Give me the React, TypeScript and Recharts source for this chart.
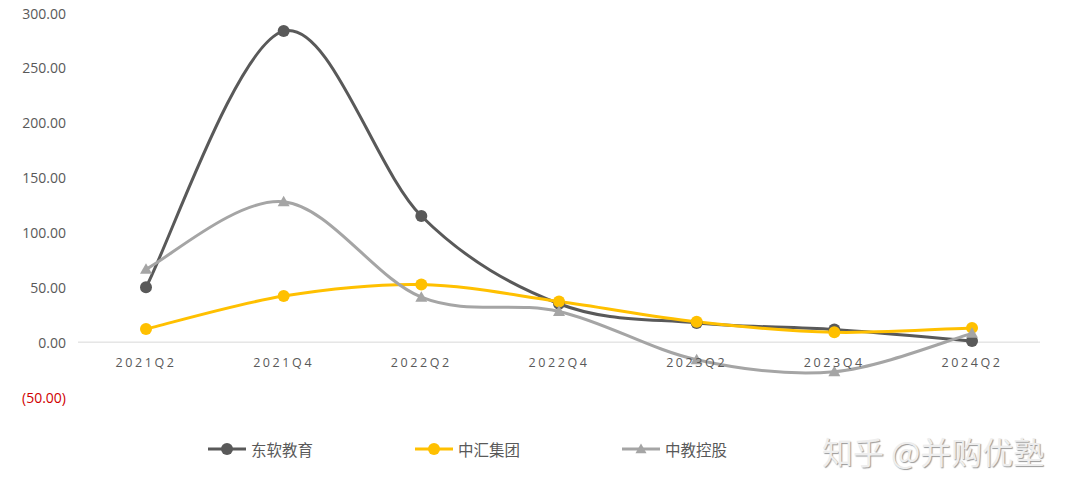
import React from "react"
import { LineChart, Line, XAxis, YAxis, ReferenceLine, Legend } from "recharts"

const quarters = ["2021Q2", "2021Q4", "2022Q2", "2022Q4", "2023Q2", "2023Q4", "2024Q2"]
const neusoft = [50, 283.5, 115, 35, 17.5, 11.5, 1]
const zhonghui = [12, 42, 52.5, 37, 18.5, 9, 13]
const zhongjiao = [66.5, 128, 41, 28, -16, -27, 8]
const yTicks = [-50, 0, 50, 100, 150, 200, 250, 300]

const series = [
  { key: "东软教育", values: neusoft, color: "#595959", shape: "circle" },
  { key: "中汇集团", values: zhonghui, color: "#FFC000", shape: "circle" },
  { key: "中教控股", values: zhongjiao, color: "#A5A5A5", shape: "triangle" },
]

const data = quarters.map((q, i) => {
  const row: Record<string, string | number> = { name: q }
  series.forEach((s) => (row[s.key] = s.values[i]))
  return row
})

// Excel-style smoothing (uniform Catmull-Rom as cubic beziers)
const smoothCurve = (context: any) => {
  let pts: number[][] = []
  return {
    areaStart() {},
    areaEnd() {},
    lineStart() {
      pts = []
    },
    point(x: number, y: number) {
      pts.push([+x, +y])
    },
    lineEnd() {
      const n = pts.length
      if (!n) return
      context.moveTo(pts[0][0], pts[0][1])
      for (let i = 0; i < n - 1; i++) {
        const p0 = pts[Math.max(i - 1, 0)]
        const p1 = pts[i]
        const p2 = pts[i + 1]
        const p3 = pts[Math.min(i + 2, n - 1)]
        context.bezierCurveTo(
          p1[0] + (p2[0] - p0[0]) / 6,
          p1[1] + (p2[1] - p0[1]) / 6,
          p2[0] - (p3[0] - p1[0]) / 6,
          p2[1] - (p3[1] - p1[1]) / 6,
          p2[0],
          p2[1]
        )
      }
    },
  }
}

const Triangle = ({ cx, cy, fill, size = 6 }: any) => (
  <path d={`M${cx},${cy - size} L${cx + size},${cy + size * 0.75} L${cx - size},${cy + size * 0.75} Z`} fill={fill} />
)

const makeDot = (color: string, shape: string) => (props: any) => {
  const { cx, cy, index } = props
  if (cx == null || cy == null) return <g key={index} />
  return shape === "triangle" ? (
    <Triangle key={index} cx={cx} cy={cy} fill={color} />
  ) : (
    <circle key={index} cx={cx} cy={cy} r={6} fill={color} />
  )
}

const XTick = ({ x, y, payload }: any) => (
  <text
    x={x}
    y={y - 43}
    textAnchor="middle"
    dominantBaseline="central"
    fill="#595959"
    fontSize={12.5}
    letterSpacing={2.6}
    fontFamily="'Open Sans', sans-serif"
  >
    {payload.value}
  </text>
)

const YTick = ({ x, y, payload }: any) => {
  const v = payload.value as number
  const label = v < 0 ? `(${Math.abs(v).toFixed(2)})` : v.toFixed(2)
  return (
    <text
      x={x}
      y={y}
      textAnchor="end"
      dominantBaseline="central"
      fill={v < 0 ? "#D00000" : "#595959"}
      fontSize={14}
      fontFamily="'Open Sans', sans-serif"
    >
      {label}
    </text>
  )
}

const LegendContent = () => (
  <div style={{ display: "flex", fontFamily: "'Noto Sans CJK SC', sans-serif", fontSize: 15.5, color: "#595959" }}>
    {series.map((s) => (
      <div key={s.key} style={{ display: "flex", alignItems: "center", width: 207 }}>
        <svg width={38} height={14} style={{ marginRight: 5 }}>
          <line x1={0} y1={7} x2={38} y2={7} stroke={s.color} strokeWidth={3} />
          {s.shape === "triangle" ? (
            <Triangle cx={19} cy={7} fill={s.color} size={5.5} />
          ) : (
            <circle cx={19} cy={7} r={6} fill={s.color} />
          )}
        </svg>
        <span>{s.key}</span>
      </div>
    ))}
  </div>
)

export default function App() {
  return (
    <div style={{ position: "absolute", left: 0, top: 0, width: 1080, height: 496, background: "#fff" }}>
      <LineChart width={1080} height={496} data={data} margin={{ top: 13, right: 40, left: 8, bottom: 69 }}>
        <XAxis
          dataKey="name"
          axisLine={false}
          tickLine={false}
          height={30}
          padding={{ left: 68, right: 68 }}
          tick={<XTick />}
          interval={0}
        />
        <YAxis
          domain={[-50, 300]}
          ticks={yTicks}
          axisLine={false}
          tickLine={false}
          width={70}
          tickMargin={6}
          tick={<YTick />}
          interval={0}
        />
        <ReferenceLine y={0} stroke="#D9D9D9" strokeWidth={1} />
        <Legend
          layout="horizontal"
          verticalAlign="middle"
          align="center"
          content={<LegendContent />}
          wrapperStyle={{ top: 438, left: 208, width: 640 }}
        />
        {series.map((s) => (
          <Line
            key={s.key}
            dataKey={s.key}
            type={smoothCurve as any}
            stroke={s.color}
            strokeWidth={3}
            dot={makeDot(s.color, s.shape)}
            activeDot={false}
            isAnimationActive={false}
          />
        ))}
      </LineChart>
      <div
        style={{
          position: "absolute",
          left: 822,
          top: 430,
          fontFamily: "'Noto Sans CJK SC', sans-serif",
          fontSize: 31,
          color: "#EEEEEE",
          textShadow: "1px 1px 1px #9a9a9a",
          whiteSpace: "nowrap",
          lineHeight: "42px",
        }}
      >
        知乎 @并购优塾
      </div>
    </div>
  )
}
